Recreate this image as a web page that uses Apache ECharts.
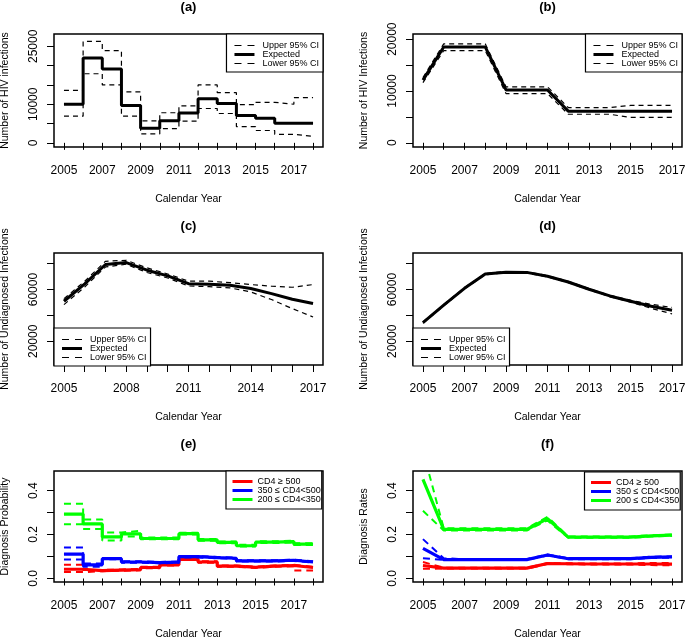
<!DOCTYPE html>
<html>
<head>
<meta charset="utf-8">
<script src="https://cdn.jsdelivr.net/npm/echarts@6/dist/echarts.min.js"></script>
<style>
  html, body { margin: 0; padding: 0; background: #fff; }
  #chart { width: 685px; height: 638px; }
</style>
</head>
<body>
<div id="chart"></div>
<script>
// ---- data ----
var years05to18 = [2005, 2006, 2007, 2008, 2009, 2010, 2011, 2012, 2013, 2014, 2015, 2016, 2017, 2018];
var years05to17 = [2005, 2006, 2007, 2008, 2009, 2010, 2011, 2012, 2013, 2014, 2015, 2016, 2017];

// (a) step per year, last value repeats the 2017 step
var aExpected = [10000, 22000, 19100, 9700, 3800, 5700, 7700, 11400, 10200, 7100, 6400, 5100, 5100, 5100];
var aUpper    = [13600, 26300, 23900, 13200, 5700, 7800, 9600, 15000, 13000, 9900, 10500, 10000, 11700, 11700];
var aLower    = [6900, 17900, 15000, 6900, 2300, 3700, 5600, 8900, 7600, 4200, 3200, 2200, 1700, 1700];

// (b)
var bExpected = [12100, 18500, 18500, 18500, 10200, 10200, 10200, 6100, 6100, 6100, 6100, 6100, 6100];
var bUpper    = [12600, 19100, 19100, 19100, 10800, 10800, 10800, 6800, 6800, 6800, 7200, 7200, 7200];
var bLower    = [11600, 17800, 17800, 17800, 9500, 9500, 9500, 5500, 5500, 5500, 4900, 4900, 4900];

// (c)
var cExpected = [51000, 64500, 79400, 80900, 75000, 70600, 64600, 64100, 63400, 60800, 56900, 52500, 49200];
var cUpper    = [53000, 66500, 81900, 82700, 76800, 72100, 66500, 66500, 65400, 63900, 62600, 61800, 63900];
var cLower    = [48400, 62000, 77500, 79600, 73200, 69000, 62800, 62300, 61300, 58200, 52300, 45300, 38800];

// (d)
var dExpected = [34500, 48000, 61000, 72000, 73500, 73300, 70300, 65900, 60300, 55100, 51000, 47100, 44000];
var dUpper    = [35000, 48500, 61500, 72500, 74000, 73800, 70800, 66400, 60800, 55600, 51800, 48600, 46200];
var dLower    = [34000, 47500, 60500, 71500, 73000, 72800, 69800, 65400, 59800, 54600, 50300, 45500, 41200];

// (e) diagnosis probability, step per year
var eRed      = [0.042, 0.036, 0.038, 0.040, 0.050, 0.062, 0.087, 0.075, 0.056, 0.051, 0.056, 0.059, 0.050, 0.050];
var eRedUp    = [0.062, 0.039, 0.041, 0.043, 0.053, 0.065, 0.090, 0.078, 0.059, 0.054, 0.059, 0.062, 0.053, 0.053];
var eRedLo    = [0.029, 0.033, 0.035, 0.037, 0.047, 0.059, 0.084, 0.072, 0.053, 0.048, 0.053, 0.056, 0.036, 0.036];
var eBlue     = [0.111, 0.062, 0.090, 0.075, 0.072, 0.074, 0.099, 0.095, 0.092, 0.080, 0.080, 0.083, 0.075, 0.075];
var eBlueUp   = [0.141, 0.068, 0.093, 0.078, 0.075, 0.077, 0.102, 0.098, 0.095, 0.083, 0.083, 0.086, 0.078, 0.078];
var eBlueLo   = [0.086, 0.053, 0.087, 0.072, 0.069, 0.071, 0.096, 0.092, 0.089, 0.077, 0.077, 0.080, 0.072, 0.072];
var eGreen    = [0.293, 0.248, 0.189, 0.203, 0.182, 0.182, 0.204, 0.176, 0.164, 0.149, 0.165, 0.168, 0.156, 0.156];
var eGreenUp  = [0.340, 0.268, 0.209, 0.217, 0.186, 0.186, 0.208, 0.180, 0.168, 0.153, 0.169, 0.172, 0.160, 0.160];
var eGreenLo  = [0.247, 0.225, 0.173, 0.191, 0.178, 0.178, 0.200, 0.172, 0.160, 0.145, 0.161, 0.164, 0.152, 0.152];

// (f) diagnosis rates
var fRed      = [0.059, 0.047, 0.047, 0.047, 0.047, 0.047, 0.068, 0.067, 0.066, 0.066, 0.066, 0.066, 0.065];
var fRedUp    = [0.075, 0.049, 0.049, 0.049, 0.049, 0.049, 0.070, 0.069, 0.068, 0.068, 0.068, 0.071, 0.070];
var fRedLo    = [0.044, 0.045, 0.045, 0.045, 0.045, 0.045, 0.066, 0.065, 0.064, 0.064, 0.064, 0.061, 0.060];
var fBlue     = [0.137, 0.086, 0.086, 0.086, 0.086, 0.086, 0.107, 0.090, 0.090, 0.090, 0.090, 0.096, 0.098];
var fBlueUp   = [0.179, 0.092, 0.088, 0.088, 0.088, 0.088, 0.109, 0.092, 0.092, 0.092, 0.092, 0.099, 0.100];
var fBlueLo   = [0.092, 0.084, 0.084, 0.084, 0.084, 0.084, 0.105, 0.088, 0.088, 0.088, 0.088, 0.093, 0.095];
var fGreen    = [0.451, 0.223, 0.223, 0.223, 0.223, 0.223, 0.272, 0.188, 0.188, 0.188, 0.188, 0.194, 0.197];
var fGreenUp  = [0.581, 0.228, 0.228, 0.228, 0.228, 0.228, 0.280, 0.191, 0.191, 0.191, 0.191, 0.197, 0.200];
var fGreenLo  = [0.308, 0.218, 0.218, 0.218, 0.218, 0.218, 0.264, 0.185, 0.185, 0.185, 0.185, 0.191, 0.194];

// tick marks / labels
var xTicks18 = years05to18;
var xTicks17 = years05to17;
var xLabelsOdd = [2005, 2007, 2009, 2011, 2013, 2015, 2017];
var xLabelsC = [2005, 2008, 2011, 2014, 2017];
var yTicksA = [0, 5000, 10000, 15000, 20000, 25000];
var yLabelsA = [0, 10000, 25000];
var yTicksB = [0, 5000, 10000, 15000, 20000];
var yLabelsB = [0, 10000, 20000];
var yTicksCD = [20000, 40000, 60000, 80000];
var yLabelsCD = [20000, 60000];
var yTicksEF = [0, 0.1, 0.2, 0.3, 0.4];
var yLabelsEF = [0, 0.2, 0.4];

var ciNames = ['Upper 95% CI', 'Expected', 'Lower 95% CI'];
var cd4Names = ['CD4 \u2265 500', '350 \u2264 CD4<500', '200 \u2264 CD4<350'];

// ---- chart ----
var FONT = '"Liberation Sans", Arial, Helvetica, sans-serif';
var RED = '#ff0000', BLUE = '#0000ff', GREEN = '#00ff00';

var boxes = [
    {left: 54,  top: 34,  width: 269, height: 113},
    {left: 413, top: 34,  width: 269, height: 113},
    {left: 54,  top: 253, width: 269, height: 112},
    {left: 413, top: 253, width: 269, height: 112},
    {left: 54,  top: 471, width: 269, height: 111},
    {left: 413, top: 471, width: 269, height: 111}
];

// legend keys drawn as flat paths (two dashes / one thick bar)
var dashKey = 'path://M0,0H7V1.2H0Z M13,0H20V1.2H13Z';
var solidKey = 'path://M0,0H20V3H0Z';

function pairs(xs, ys) {
    return xs.map(function (x, i) { return [x, ys[i]]; });
}

function plain(v) { return String(v); }
function oneDec(v) { return v.toFixed(1); }

function xAxisFor(i, min, max, ticks, labels) {
    return {
        type: 'value', gridIndex: i, min: min, max: max,
        name: 'Calendar Year', nameLocation: 'middle', nameGap: 47,
        nameTextStyle: {fontFamily: FONT, fontSize: 10.5, color: '#000'},
        axisLine: {show: false},
        axisTick: {show: true, inside: false, length: 7, lineStyle: {color: '#000', width: 1}, customValues: ticks},
        axisLabel: {color: '#000', fontFamily: FONT, fontSize: 12, margin: 18, customValues: labels, formatter: plain},
        splitLine: {show: false}
    };
}

function yAxisFor(i, min, max, ticks, labels, name, fmt) {
    return {
        type: 'value', gridIndex: i, min: min, max: max,
        name: name, nameLocation: 'middle', nameGap: 43,
        nameTextStyle: {fontFamily: FONT, fontSize: 10.5, color: '#000'},
        axisLine: {show: false},
        axisTick: {show: true, inside: false, length: 7, lineStyle: {color: '#000', width: 1}, customValues: ticks},
        axisLabel: {color: '#000', fontFamily: FONT, fontSize: 12, margin: 14, rotate: 90, customValues: labels, formatter: fmt},
        splitLine: {show: false}
    };
}

function line(name, gi, xs, ys, color, width, dash, step) {
    return {
        type: 'line', name: name, xAxisIndex: gi, yAxisIndex: gi,
        data: pairs(xs, ys), step: step || false,
        symbol: 'none', silent: true, clip: true,
        lineStyle: {color: color, width: width, type: dash || 'solid'},
        itemStyle: {color: color}
    };
}

var ciDash = [5, 4];
var cdDash = [7, 5];

var series = [
    // (a)
    line('Expected', 0, years05to18, aExpected, '#000', 3, null, 'end'),
    line('Upper 95% CI', 0, years05to18, aUpper, '#000', 1.2, ciDash, 'end'),
    line('Lower 95% CI', 0, years05to18, aLower, '#000', 1.2, ciDash, 'end'),
    // (b)
    line('Expected', 1, years05to17, bExpected, '#000', 3),
    line('Upper 95% CI', 1, years05to17, bUpper, '#000', 1.2, ciDash),
    line('Lower 95% CI', 1, years05to17, bLower, '#000', 1.2, ciDash),
    // (c)
    line('Expected', 2, years05to17, cExpected, '#000', 3),
    line('Upper 95% CI', 2, years05to17, cUpper, '#000', 1.2, ciDash),
    line('Lower 95% CI', 2, years05to17, cLower, '#000', 1.2, ciDash),
    // (d)
    line('Expected', 3, years05to17, dExpected, '#000', 3),
    line('Upper 95% CI', 3, years05to17, dUpper, '#000', 1.2, ciDash),
    line('Lower 95% CI', 3, years05to17, dLower, '#000', 1.2, ciDash),
    // (e)
    line(cd4Names[0], 4, years05to18, eRed, RED, 3.2, null, 'end'),
    line('e red up', 4, years05to18, eRedUp, RED, 2, cdDash, 'end'),
    line('e red lo', 4, years05to18, eRedLo, RED, 2, cdDash, 'end'),
    line(cd4Names[1], 4, years05to18, eBlue, BLUE, 3.2, null, 'end'),
    line('e blue up', 4, years05to18, eBlueUp, BLUE, 2, cdDash, 'end'),
    line('e blue lo', 4, years05to18, eBlueLo, BLUE, 2, cdDash, 'end'),
    line(cd4Names[2], 4, years05to18, eGreen, GREEN, 3.2, null, 'end'),
    line('e green up', 4, years05to18, eGreenUp, GREEN, 2, cdDash, 'end'),
    line('e green lo', 4, years05to18, eGreenLo, GREEN, 2, cdDash, 'end'),
    // (f)
    line(cd4Names[0], 5, years05to17, fRed, RED, 3.2),
    line('f red up', 5, years05to17, fRedUp, RED, 2, cdDash),
    line('f red lo', 5, years05to17, fRedLo, RED, 2, cdDash),
    line(cd4Names[1], 5, years05to17, fBlue, BLUE, 3.2),
    line('f blue up', 5, years05to17, fBlueUp, BLUE, 2, cdDash),
    line('f blue lo', 5, years05to17, fBlueLo, BLUE, 2, cdDash),
    line(cd4Names[2], 5, years05to17, fGreen, GREEN, 3.2),
    line('f green up', 5, years05to17, fGreenUp, GREEN, 2, cdDash),
    line('f green lo', 5, years05to17, fGreenLo, GREEN, 2, cdDash)
];

function ciLegend(pos) {
    var base = {
        orient: 'vertical', itemWidth: 20, itemHeight: 8.7, itemGap: 0,
        padding: [7, 4, 4, 8], borderColor: '#000', borderWidth: 1.2, borderRadius: 0,
        backgroundColor: '#fff', selectedMode: false,
        textStyle: {fontFamily: FONT, fontSize: 9, color: '#000', lineHeight: 8.7, padding: [0, 0, 0, 3]},
        data: [
            {name: ciNames[0], icon: dashKey},
            {name: ciNames[1], icon: solidKey},
            {name: ciNames[2], icon: dashKey}
        ]
    };
    return Object.assign(base, pos);
}

function cd4Legend(pos) {
    var base = {
        orient: 'vertical', itemWidth: 20, itemHeight: 8.3, itemGap: 0,
        padding: [6, 1, 5, 6.5], borderColor: '#000', borderWidth: 1.2, borderRadius: 0,
        backgroundColor: '#fff', selectedMode: false,
        textStyle: {fontFamily: FONT, fontSize: 9, color: '#000', lineHeight: 8.3},
        data: cd4Names.map(function (n) { return {name: n, icon: solidKey}; })
    };
    return Object.assign(base, pos);
}

var titleTexts = ['(a)', '(b)', '(c)', '(d)', '(e)', '(f)'];
var titleTops = [1, 1, 220, 220, 438, 438];

var option = {
    animation: false,
    backgroundColor: '#fff',
    textStyle: {fontFamily: FONT},
    title: titleTexts.map(function (t, i) {
        var b = boxes[i];
        return {
            text: t, left: b.left + b.width / 2, top: titleTops[i], textAlign: 'center', padding: 0,
            textStyle: {fontFamily: FONT, fontSize: 13, fontWeight: 'bold', color: '#000'}
        };
    }),
    grid: boxes.map(function (b) {
        return {
            left: b.left, top: b.top, width: b.width, height: b.height,
            show: true, borderColor: '#000', borderWidth: 1.5, backgroundColor: 'transparent',
            containLabel: false, outerBoundsMode: 'none'
        };
    }),
    xAxis: [
        xAxisFor(0, 2004.48, 2018.52, xTicks18, xLabelsOdd),
        xAxisFor(1, 2004.52, 2017.48, xTicks17, xLabelsOdd),
        xAxisFor(2, 2004.52, 2017.48, xTicks17, xLabelsC),
        xAxisFor(3, 2004.52, 2017.48, xTicks17, xLabelsOdd),
        xAxisFor(4, 2004.48, 2018.52, xTicks18, xLabelsOdd),
        xAxisFor(5, 2004.52, 2017.48, xTicks17, xLabelsOdd)
    ],
    yAxis: [
        yAxisFor(0, -1080, 28200, yTicksA, yLabelsA, 'Number of HIV infections', plain),
        yAxisFor(1, -820, 21000, yTicksB, yLabelsB, 'Number of HIV Infections', plain),
        yAxisFor(2, 1700, 88300, yTicksCD, yLabelsCD, 'Number of Undiagnosed Infections', plain),
        yAxisFor(3, 1700, 88300, yTicksCD, yLabelsCD, 'Number of Undiagnosed Infections', plain),
        yAxisFor(4, -0.016, 0.489, yTicksEF, yLabelsEF, 'Diagnosis Probability', oneDec),
        yAxisFor(5, -0.016, 0.489, yTicksEF, yLabelsEF, 'Diagnosis Rates', oneDec)
    ],
    legend: [
        ciLegend({right: 685 - 323, top: 34}),
        ciLegend({right: 685 - 682, top: 34}),
        ciLegend({left: 54, top: 328}),
        ciLegend({left: 413, top: 328}),
        cd4Legend({left: 226, top: 471}),
        cd4Legend({left: 584.5, top: 472})
    ],
    series: series
};

var chart = echarts.init(document.getElementById('chart'));
chart.setOption(option);
</script>
</body>
</html>
